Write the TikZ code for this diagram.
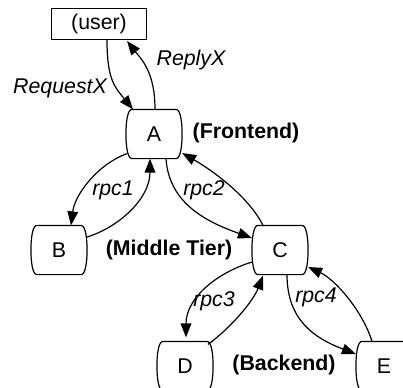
\documentclass[tikz,border=0pt]{standalone}
\usepackage{fontspec}
\setmainfont{Liberation Sans}
\usetikzlibrary{arrows.meta,calc}

\tikzset{every picture/.style={line width=0.9pt}}
\tikzset{
  tier/.style={rectangle, minimum width=41.25pt, minimum height=36pt, inner sep=0pt,
    font=\fontsize{16}{19}\selectfont},
  client/.style={draw, rectangle, minimum width=71pt, minimum height=23pt, inner sep=0pt,
    font=\fontsize{16}{19}\selectfont},
  call/.style={-{Triangle[length=10.5pt,width=8pt]}},
  msg/.style={inner sep=0.75pt, font=\itshape\fontsize{16}{19}\selectfont},
  layer/.style={inner sep=0.75pt, font=\bfseries\fontsize{16}{19}\selectfont}
}

\begin{document}
\begin{tikzpicture}[x=0.75pt,y=0.75pt,yscale=-1,xscale=1]
\useasboundingbox (0,0) rectangle (403,387);
\clip (0,0) rectangle (403,387);

% Nodes
\node [client] (user) at (99,24) {(user)};
\node [tier] (A) at (154,134) {A};
\node [tier] (B) at (59,250) {B};
\node [tier] (C) at (280,250) {C};
\node [tier] (D) at (185,366) {D};
\node [tier] (E) at (384,366) {E};

% outline of the tier boxes, sides bowed out
\foreach \n in {A,B,C,D,E}
  \draw ($(\n.north west)+(6,0)$) -- ($(\n.north east)+(-6,0)$)
    .. controls +(4.5,0) and +(0,-11) .. (\n.east)
    .. controls +(0,11) and +(4.5,0) .. ($(\n.south east)+(-6,0)$)
    -- ($(\n.south west)+(6,0)$)
    .. controls +(-4.5,0) and +(0,11) .. (\n.west)
    .. controls +(0,-11) and +(-4.5,0) .. cycle;

% Tier labels
\node [layer] (front) at (246,133) {(Frontend)};
\node [layer] (middle) at (169,250) {(Middle Tier)};
\node [layer] (back) at (284,365) {(Backend)};

% user <-> A
\draw [call] ($(user.south)+(8,0)$) .. controls +(0,40) and +(-18,-22) .. ($(A.north)+(-21,0)$);
\draw [call] ($(A.north)+(1,0)$) .. controls +(0,-38) and +(14,18) .. ($(user.south)+(28,1)$);
\node [msg] (req) at (60,88) {RequestX};
\node [msg] (rep) at (191,60) {ReplyX};

% A <-> B
\draw [call] ($(A.south)+(-27,-5)$) .. controls +(-28,10) and +(4,-32) .. ($(B.north)+(12,0)$);
\draw [call] ($(B.east)+(0,-13)$) .. controls +(32,-10) and +(0,40) .. ($(A.south)+(-4,0)$);
\node [msg] (r1) at (113,190) {rpc1};

% A <-> C
\draw [call] ($(A.south)+(12,0)$) .. controls +(3,45) and +(-45,-16) .. ($(C.west)+(0,-12)$);
\draw [call] ($(C.north)+(-17,0)$) .. controls +(-15,-30) and +(28,16) .. ($(A.east)+(0,19)$);
\node [msg] (r2) at (204,190) {rpc2};

% C <-> D
\draw [call] ($(C.west)+(0,12)$) .. controls +(-38,12) and +(0,-38) .. ($(D.north)+(1,-4)$);
\draw [call] ($(D.north)+(23,3)$) .. controls +(22,-16) and +(-10,26) .. ($(C.south)+(-17,1)$);
\node [msg] (r3) at (214,301) {rpc3};

% C <-> E
\draw [call] ($(C.south)+(7,0)$) .. controls +(0,45) and +(-42,-16) .. ($(E.west)+(0,-12)$);
\draw [call] ($(E.north)+(-12,0)$) .. controls +(-10,-32) and +(26,12) .. ($(C.east)+(0,17)$);
\node [msg] (r4) at (316,297) {rpc4};

\end{tikzpicture}
\end{document}
